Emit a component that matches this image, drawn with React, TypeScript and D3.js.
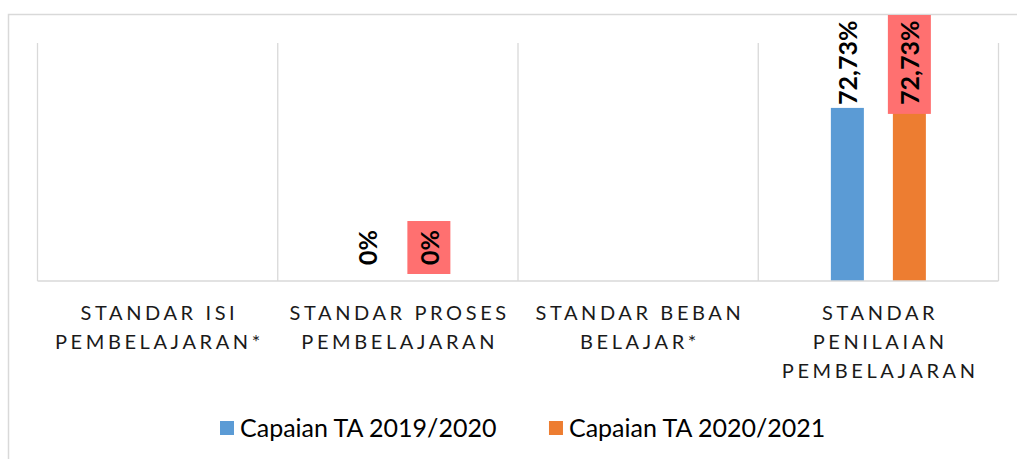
import React from "react";
import * as d3 from "d3";

const categories = [
  "Standar Isi Pembelajaran*",
  "Standar Proses Pembelajaran",
  "Standar Beban Belajar*",
  "Standar Penilaian Pembelajaran",
];
const tickLabels = [
  ["STANDAR ISI", "PEMBELAJARAN*"],
  ["STANDAR PROSES", "PEMBELAJARAN"],
  ["STANDAR BEBAN", "BELAJAR*"],
  ["STANDAR", "PENILAIAN", "PEMBELAJARAN"],
];
const seriesNames = ["Capaian TA 2019/2020", "Capaian TA 2020/2021"];
const series2019: (number | null)[] = [null, 0, null, 72.73];
const series2020: (number | null)[] = [null, 0, null, 72.73];
const seriesValues = [series2019, series2020];
const seriesColors = ["#5B9BD5", "#ED7D31"];

const W = 1017;
const H = 459;
const plot = { left: 37.5, right: 998.5, top: 43, bottom: 281 };
const LABEL_FONT = "bold 25px Lato";
const GRID = "#d9d9d9";

function measure(text: string, font: string): number {
  if (typeof document === "undefined") return text.length * 14;
  const c = document.createElement("canvas");
  const ctx = c.getContext("2d");
  if (!ctx) return text.length * 14;
  ctx.font = font;
  return ctx.measureText(text).width;
}

const fmt = (v: number) =>
  v === 0 ? "0%" : v.toFixed(2).replace(".", ",") + "%";

export default function App() {
  const x = d3
    .scaleBand<string>()
    .domain(categories)
    .range([plot.left, plot.right])
    .paddingInner(0)
    .paddingOuter(0);
  const y = d3.scaleLinear().domain([0, 100]).range([plot.bottom, plot.top]);
  const inner = d3
    .scaleBand<string>()
    .domain(seriesNames)
    .range([-47.5, 47.5])
    .paddingInner(29 / 62)
    .paddingOuter(0);

  const gridXs = categories.map((c) => x(c) as number).concat([plot.right]);

  const bars: React.ReactNode[] = [];
  const labels: React.ReactNode[] = [];
  seriesNames.forEach((s, si) => {
    seriesValues[si].forEach((v, ci) => {
      if (v === null) return;
      const cx0 = (x(categories[ci]) as number) + x.bandwidth() / 2;
      const bx = cx0 + (inner(s) as number);
      const bw = inner.bandwidth();
      const cx = bx + bw / 2;
      const h = y(0) - y(v);
      if (h > 0)
        bars.push(
          <rect key={`b${si}-${ci}`} x={bx} y={y(v)} width={bw} height={h} fill={seriesColors[si]} />
        );
      const txt = fmt(v);
      const tl = measure(txt, LABEL_FONT);
      const bottom = Math.min(y(v) - 3, y(0) - 16);
      const top = bottom - tl;
      if (si === 1) {
        const by = Math.max(top - 9, 15);
        labels.push(
          <rect key={`lb${si}-${ci}`} x={cx - 21.5} y={by} width={43} height={bottom + 9 - by} fill="#FF7070" />
        );
      }
      labels.push(
        <text
          key={`l${si}-${ci}`}
          transform={`translate(${cx},${bottom}) rotate(-90)`}
          textAnchor="start"
          dominantBaseline="central"
          style={{ font: LABEL_FONT }}
          fill="#000"
        >
          {txt}
        </text>
      );
    });
  });

  const legendFont = "25px Lato";
  const items = seriesNames.map((n) => measure(n, legendFont));
  let lx = 220;
  const legend = seriesNames.map((n, i) => {
    const g = (
      <g key={n} transform={`translate(${lx},0)`}>
        <rect x={0} y={421} width={14} height={14} fill={seriesColors[i]} />
        <text x={20} y={437} style={{ font: legendFont }} fill="#000">
          {n}
        </text>
      </g>
    );
    lx += 20 + items[i] + 51;
    return g;
  });

  const spacing = 3.6;

  return (
    <svg width={W} height={H} style={{ position: "absolute", left: 0, top: 0 }}>
      <rect x={0} y={0} width={W} height={H} fill="#fff" />
      <path d={`M8.5,${H + 5}V14.5H${W + 5}`} fill="none" stroke={GRID} strokeWidth={1.5} />
      {gridXs.map((gx, i) => (
        <line key={i} x1={gx} x2={gx} y1={plot.top} y2={plot.bottom} stroke={GRID} strokeWidth={1.3} />
      ))}
      {bars}
      <line x1={plot.left} x2={plot.right} y1={plot.bottom} y2={plot.bottom} stroke={GRID} strokeWidth={1.5} />
      {labels}
      {categories.map((c, ci) => {
        const cx = (x(c) as number) + x.bandwidth() / 2;
        return (
          <text
            key={c}
            textAnchor="middle"
            style={{ font: "20px Lato", letterSpacing: `${spacing}px` }}
            fill="#1a1a1a"
          >
            {tickLabels[ci].map((ln, li) => (
              <tspan key={li} x={cx + spacing / 2} y={320 + li * 29}>
                {ln}
              </tspan>
            ))}
          </text>
        );
      })}
      {legend}
    </svg>
  );
}
